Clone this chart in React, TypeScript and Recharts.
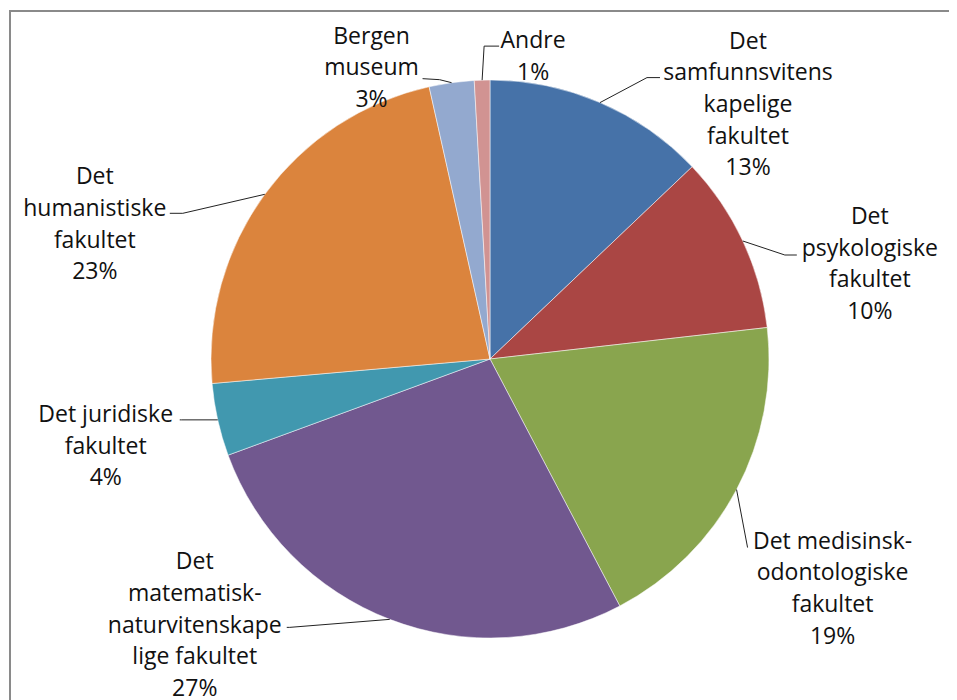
import {PieChart, Pie, Cell} from 'recharts';

// Faculties at UiB, share of total
const faculties = [
    'Det samfunnsvitenskapelige fakultet',
    'Det psykologiske fakultet',
    'Det medisinsk-odontologiske fakultet',
    'Det matematisk-naturvitenskapelige fakultet',
    'Det juridiske fakultet',
    'Det humanistiske fakultet',
    'Bergen museum',
    'Andre',
];
const shares = [12.9, 10.3, 19.1, 27.1, 4.2, 22.9, 2.6, 0.9];

// wrapped label text as it appears in the chart
const labelLines = [
    ['Det', 'samfunnsvitens', 'kapelige', 'fakultet'],
    ['Det', 'psykologiske', 'fakultet'],
    ['Det medisinsk-', 'odontologiske', 'fakultet'],
    ['Det', 'matematisk-', 'naturvitenskape', 'lige fakultet'],
    ['Det juridiske', 'fakultet'],
    ['Det', 'humanistiske', 'fakultet'],
    ['Bergen', 'museum'],
    ['Andre'],
];

const colors = ['#4672a8', '#aa4644', '#89a54e', '#71588f', '#4198af', '#db843d', '#93a9cf', '#d19392'];

// label placement relative to the arc midpoint: leader elbow, leader end, text centre (first line)
const labelLayout = [
    {elbow: [47, -25], end: [60, -25], text: [148, -63]},
    {elbow: [42, 14], end: [54, 14], text: [127, -26]},
    {elbow: [11, 58], end: [11, 58], text: [96, 50]},
    {elbow: [-100, 8], end: [-103, 8], text: [-195, -59]},
    {elbow: [-36, 0], end: [-38, 0], text: [-112, -7]},
    {elbow: [-82, 19], end: [-95, 19], text: [-170, -19]},
    {elbow: [-12, -3], end: [-29, -4], text: [-80, -48]},
    {elbow: [2, -34], end: [17, -34], text: [51, -41]},
];

const data = faculties.map((name, i) => ({name, value: shares[i]}));
const total = shares.reduce((a, b) => a + b, 0);

const RAD = Math.PI / 180;
const LINE_H = 31.7;

const renderLabel = (props: any) => {
    const {cx, cy, midAngle, outerRadius, index, value} = props;
    const mx = cx + outerRadius * Math.cos(-midAngle * RAD);
    const my = cy + outerRadius * Math.sin(-midAngle * RAD);
    const lay = labelLayout[index];
    const lines = [...labelLines[index], `${Math.round((value / total) * 100)}%`];
    const tx = mx + lay.text[0];
    const ty = my + lay.text[1];
    return (
        <g key={`lbl-${index}`}>
            <polyline
                points={`${mx},${my} ${mx + lay.elbow[0]},${my + lay.elbow[1]} ${mx + lay.end[0]},${my + lay.end[1]}`}
                fill="none"
                stroke="#222"
                strokeWidth={1}
            />
            <text x={tx} y={ty} textAnchor="middle" fill="#111" fontSize={23} fontFamily="'Open Sans', sans-serif">
                {lines.map((l, j) => (
                    <tspan key={j} x={tx} y={ty + j * LINE_H} dominantBaseline="central">{l}</tspan>
                ))}
            </text>
        </g>
    );
};

export default function App() {
    return (
        <div style={{position: 'relative', width: 949, height: 692, overflow: 'hidden', background: '#fff'}}>
            <div
                style={{
                    position: 'absolute',
                    left: 1,
                    top: 2,
                    width: 1000,
                    height: 1000,
                    border: '2px solid #8a8a8a',
                }}
            />
            <div style={{position: 'absolute', left: 0, top: 0}}>
                <PieChart width={949} height={692} margin={{top: 0, right: 0, bottom: 0, left: 0}}>
                    <Pie
                        data={data}
                        dataKey="value"
                        nameKey="name"
                        cx={482}
                        cy={351}
                        outerRadius={279}
                        startAngle={90}
                        endAngle={-270}
                        stroke="#ffffff"
                        strokeWidth={0.5}
                        label={renderLabel}
                        labelLine={false}
                        isAnimationActive={false}
                    >
                        {data.map((entry, index) => (
                            <Cell key={`cell-${index}`} fill={colors[index]}/>
                        ))}
                    </Pie>
                </PieChart>
            </div>
        </div>
    );
}
